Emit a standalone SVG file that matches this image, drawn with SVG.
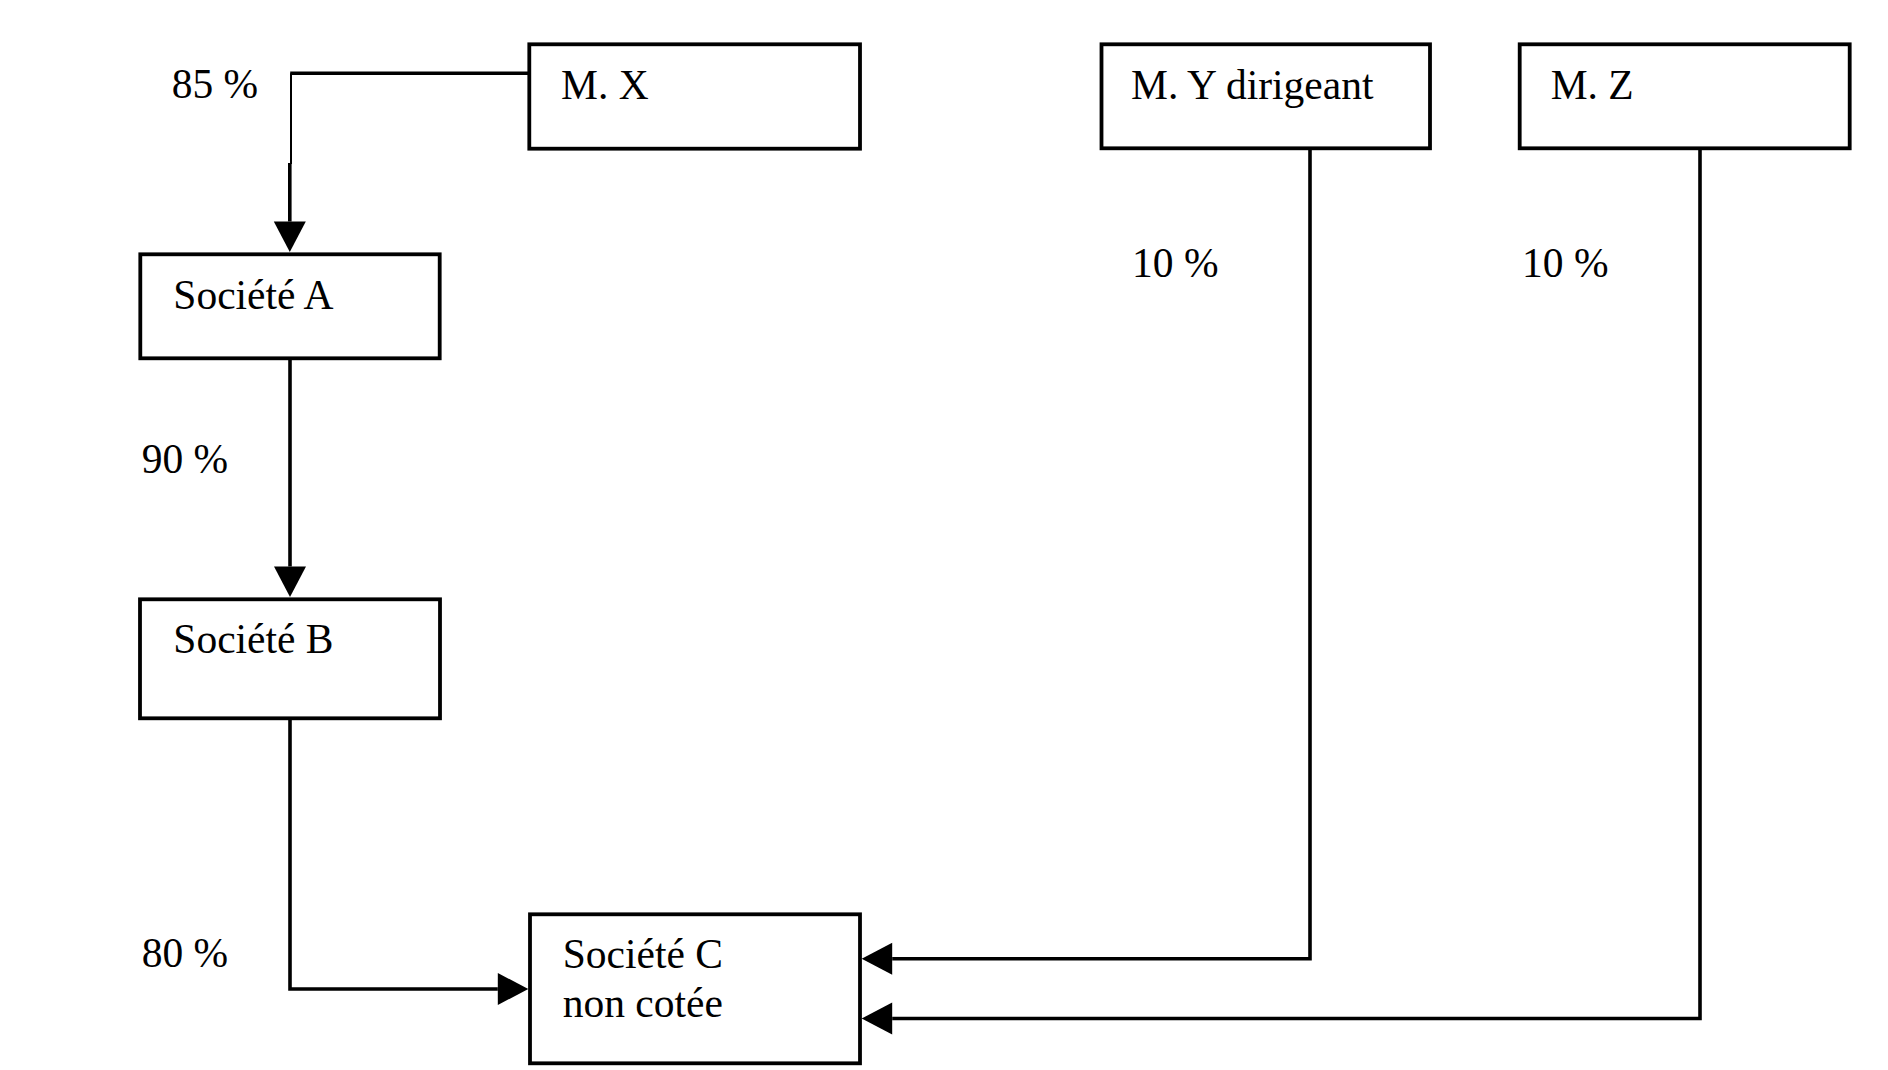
<svg xmlns="http://www.w3.org/2000/svg" width="1888" height="1070" viewBox="0 0 1888 1070">
<style>
.box{fill:#fff;stroke:#000;stroke-width:3.8}
.ln{fill:none;stroke:#000;stroke-width:3.6}
.thin{fill:none;stroke:#000;stroke-width:2}
text{font-family:"Liberation Serif","Times New Roman",serif;font-size:41.5px;fill:#000}
</style>
<defs>
<marker id="arr" markerUnits="userSpaceOnUse" markerWidth="31" markerHeight="32" refX="0" refY="16" orient="auto" overflow="visible">
<path d="M0,0 L30.5,16 L0,32 Z" fill="#000"/>
</marker>
</defs>
<rect width="1888" height="1070" fill="#fff"/>
<g id="connectors">
<path class="ln" d="M529,73.3 H290.2"/>
<path class="thin" d="M291,73.3 V164"/>
<path class="ln" d="M289.8,163 V221.5" marker-end="url(#arr)"/>
<path class="ln" d="M290,358.3 V566.5" marker-end="url(#arr)"/>
<path class="ln" d="M290,718.3 V989 H497.8" marker-end="url(#arr)"/>
<path class="ln" d="M1310,148.3 V958.7 H892.2" marker-end="url(#arr)"/>
<path class="ln" d="M1700,148.3 V1018.5 H892.2" marker-end="url(#arr)"/>
</g>
<g id="labels">
<text x="171.7" y="97.7">85 %</text>
<text x="141.7" y="472.7">90 %</text>
<text x="141.7" y="966.7">80 %</text>
<text x="1132" y="277.3">10 %</text>
<text x="1522" y="277.3">10 %</text>
</g>
<g id="node-mx">
<rect class="box" x="529.3" y="44.3" width="330.7" height="104.4"/>
<text x="561" y="99.3">M. X</text>
</g>
<g id="node-my">
<rect class="box" x="1101.5" y="44.3" width="328.5" height="104"/>
<text x="1131" y="99.3">M. Y dirigeant</text>
</g>
<g id="node-mz">
<rect class="box" x="1519.7" y="44.3" width="330" height="104"/>
<text x="1550.7" y="99.3">M. Z</text>
</g>
<g id="node-a">
<rect class="box" x="140.3" y="254.3" width="299.4" height="104"/>
<text x="173.3" y="309.3">Société A</text>
</g>
<g id="node-b">
<rect class="box" x="140" y="599.3" width="300" height="119"/>
<text x="173.3" y="653.3">Société B</text>
</g>
<g id="node-c">
<rect class="box" x="530" y="914.3" width="330" height="149"/>
<text x="562.7" y="967.7">Société C</text>
<text x="562.7" y="1016.7">non cotée</text>
</g>
</svg>
